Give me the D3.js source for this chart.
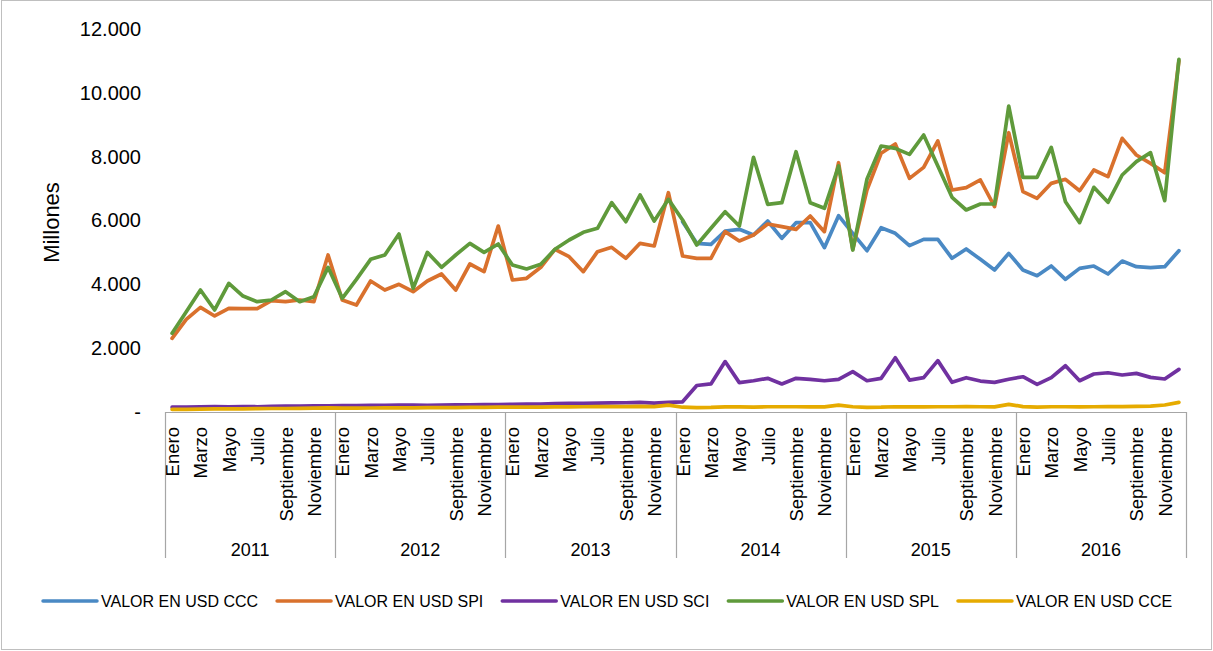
<!DOCTYPE html>
<html>
<head>
<meta charset="utf-8">
<script src="https://cdn.jsdelivr.net/npm/d3@7"></script>
<style>
  body { margin: 0; background: #fff; }
  svg { display: block; font-family: "Liberation Sans", Arial, sans-serif; }
</style>
</head>
<body>
<svg id="chart" width="1213" height="651"></svg>
<script>
// categories
const years = [2011, 2012, 2013, 2014, 2015, 2016];
const months = ["Enero", "Febrero", "Marzo", "Abril", "Mayo", "Junio", "Julio",
                "Agosto", "Septiembre", "Octubre", "Noviembre", "Diciembre"];
const yTicks = [0, 2000, 4000, 6000, 8000, 10000, 12000];

// series values (millones USD), one per month Jan 2011 .. Dec 2016
const valorCCC = [
  null, null, null, null, null, null, null, null, null, null, null, null,
  null, null, null, null, null, null, null, null, null, null, null, null,
  null, null, null, null, null, null, null, null, null, null, null, null,
  5963, 5284, 5253, 5671, 5723, 5546, 5984, 5441, 5932, 5932, 5149, 6151,
  5598, 5054, 5775, 5598, 5211, 5410, 5410, 4815, 5107, 4783, 4449, 4971,
  4449, 4271, 4574, 4157, 4501, 4574, 4324, 4731, 4553, 4522, 4553, 5054
];
const valorSPI = [
  2308, 2903, 3279, 3008, 3248, 3240, 3240, 3488, 3457, 3509, 3457, 4919,
  3509, 3352, 4104, 3822, 4000, 3770, 4104, 4324, 3822, 4637, 4397, 5827,
  4136, 4188, 4533, 5097, 4867, 4397, 5023, 5159, 4815, 5284, 5201, 6872,
  4887, 4815, 4815, 5651, 5358, 5546, 5890, 5807, 5723, 6141, 5651, 7811,
  5097, 6955, 8105, 8396, 7321, 7665, 8491, 6955, 7028, 7269, 6433, 8751,
  6903, 6694, 7164, 7290, 6934, 7582, 7373, 8574, 8052, 7791, 7498, 11000
];
const valorSCI = [
  150, 155, 165, 170, 165, 170, 165, 175, 185, 185, 190, 195,
  200, 200, 205, 210, 215, 215, 210, 220, 225, 225, 235, 230,
  240, 245, 250, 265, 270, 270, 280, 285, 290, 300, 280, 300,
  320, 830, 880, 1580, 920, 980, 1055, 880, 1055, 1025, 980, 1025,
  1265, 980, 1055, 1700, 1000, 1075, 1610, 930, 1075, 970, 930, 1025,
  1105, 865, 1075, 1450, 980, 1190, 1230, 1160, 1210, 1085, 1035, 1335
];
const valorSPL = [
  2466, 3143, 3822, 3196, 4031, 3634, 3457, 3509, 3770, 3457, 3613, 4533,
  3561, 4157, 4783, 4919, 5577, 3875, 5002, 4533, 4919, 5284, 5002, 5263,
  4606, 4480, 4627, 5097, 5389, 5630, 5755, 6558, 5963, 6799, 5984, 6663,
  6015, 5232, 5755, 6276, 5827, 7979, 6507, 6558, 8156, 6558, 6381, 7707,
  5075, 7290, 8334, 8261, 8073, 8678, 7707, 6726, 6329, 6517, 6517, 9587,
  7353, 7353, 8292, 6590, 5932, 7039, 6569, 7425, 7843, 8125, 6621, 11050
];
const valorCCE = [
  80, 85, 90, 95, 100, 100, 105, 110, 110, 115, 120, 130,
  120, 120, 125, 130, 130, 130, 135, 140, 140, 145, 145, 150,
  150, 150, 155, 160, 160, 165, 170, 170, 170, 175, 170, 215,
  150, 140, 145, 160, 160, 150, 165, 165, 165, 160, 160, 215,
  165, 145, 150, 165, 160, 160, 165, 165, 170, 165, 160, 240,
  170, 150, 165, 165, 160, 165, 170, 170, 175, 185, 220, 300
];

const seriesNames = ["VALOR EN USD CCC", "VALOR EN USD SPI", "VALOR EN USD SCI",
                     "VALOR EN USD SPL", "VALOR EN USD CCE"];
const seriesValues = [valorCCC, valorSPI, valorSCI, valorSPL, valorCCE];
const seriesColors = ["#4a89c4", "#d9712d", "#7031a0", "#5f9a3b", "#e6ab00"];

const width = 1213, height = 651;
const margin = { top: 29, right: 27, bottom: 239, left: 165 };

const svg = d3.select("#chart");

// outer frame
svg.append("rect")
    .attr("x", 1.5).attr("y", 0.5)
    .attr("width", width - 3).attr("height", height - 2)
    .attr("fill", "#fff")
    .attr("stroke", "#bfbfbf");

// one category per month
const cats = [];
years.forEach(y => months.forEach((m, mi) => cats.push({ year: y, month: m, mi: mi, key: y + "-" + mi })));

const x = d3.scaleBand()
    .domain(cats.map(c => c.key))
    .range([margin.left, width - margin.right])
    .padding(0);

const y = d3.scaleLinear()
    .domain([0, 12000])
    .range([height - margin.bottom, margin.top]);

const plotBottom = height - margin.bottom;
const cx = d => x(d.key) + x.bandwidth() / 2;

// y axis labels, "." as thousands separator, "-" for zero
const locale = d3.formatLocale({ decimal: ",", thousands: ".", grouping: [3], currency: ["", ""] });
const fmt = locale.format(",.0f");

const yAxis = svg.append("g")
    .attr("transform", `translate(${margin.left},0)`)
    .call(d3.axisLeft(y).tickValues(yTicks).tickSize(0).tickPadding(24)
        .tickFormat(v => v === 0 ? "-" : fmt(v)));
yAxis.select(".domain").remove();
yAxis.selectAll("text")
    .attr("font-family", "Liberation Sans, Arial, sans-serif")
    .attr("font-size", 20)
    .attr("fill", "#000");

svg.append("text")
    .attr("transform", `translate(59,${(margin.top + plotBottom) / 2 + 2}) rotate(-90)`)
    .attr("text-anchor", "middle")
    .attr("font-size", 22)
    .attr("fill", "#000")
    .text("Millones");

// category axis: baseline, year separators, month and year labels
const catAxis = svg.append("g");
const catBottom = 558;

catAxis.append("line")
    .attr("x1", margin.left).attr("x2", width - margin.right)
    .attr("y1", plotBottom + 0.5).attr("y2", plotBottom + 0.5)
    .attr("stroke", "#a6a6a6").attr("stroke-width", 1.2);

const yearEdges = years.map(yr => x(yr + "-0")).concat([width - margin.right]);
catAxis.selectAll(".year-sep")
    .data(yearEdges)
    .enter().append("line")
    .attr("class", "year-sep")
    .attr("x1", d => Math.round(d) + 0.5).attr("x2", d => Math.round(d) + 0.5)
    .attr("y1", plotBottom).attr("y2", catBottom)
    .attr("stroke", "#a6a6a6").attr("stroke-width", 1.2);

catAxis.selectAll(".month-label")
    .data(cats.filter(c => c.mi % 2 === 0))
    .enter().append("text")
    .attr("class", "month-label")
    .attr("transform", d => `translate(${cx(d) + 0.5},${plotBottom + 15}) rotate(-90)`)
    .attr("text-anchor", "end")
    .attr("dy", "0.35em")
    .attr("font-size", 18.5)
    .attr("fill", "#000")
    .text(d => d.month);

catAxis.selectAll(".year-label")
    .data(years)
    .enter().append("text")
    .attr("class", "year-label")
    .attr("x", (d, i) => (yearEdges[i] + yearEdges[i + 1]) / 2)
    .attr("y", 556)
    .attr("text-anchor", "middle")
    .attr("font-size", 18)
    .attr("fill", "#000")
    .text(d => d);

// series lines
const line = d3.line()
    .defined(d => d.v != null)
    .x(d => cx(d.c))
    .y(d => y(d.v));

svg.append("g")
    .selectAll("path")
    .data(seriesValues.map((vals, si) => ({ si: si, pts: vals.map((v, i) => ({ c: cats[i], v: v })) })))
    .enter().append("path")
    .attr("d", d => line(d.pts))
    .attr("fill", "none")
    .attr("stroke", d => seriesColors[d.si])
    .attr("stroke-width", 3.7)
    .attr("stroke-linejoin", "round")
    .attr("stroke-linecap", "round");

// legend
const legend = svg.append("g").attr("transform", "translate(0,601)");
const items = legend.selectAll("g")
    .data(seriesNames)
    .enter().append("g");
items.append("line")
    .attr("x1", 0).attr("x2", 54)
    .attr("stroke", (d, i) => seriesColors[i])
    .attr("stroke-width", 3.5)
    .attr("stroke-linecap", "round");
items.append("text")
    .attr("x", 58)
    .attr("dy", "0.35em")
    .attr("font-size", 16)
    .attr("fill", "#000")
    .text(d => d);

let offset = 43;
items.each(function() {
    const w = this.querySelector("text").getComputedTextLength();
    d3.select(this).attr("transform", `translate(${offset},0)`);
    offset += 58 + w + 19;
});
</script>
</body>
</html>
